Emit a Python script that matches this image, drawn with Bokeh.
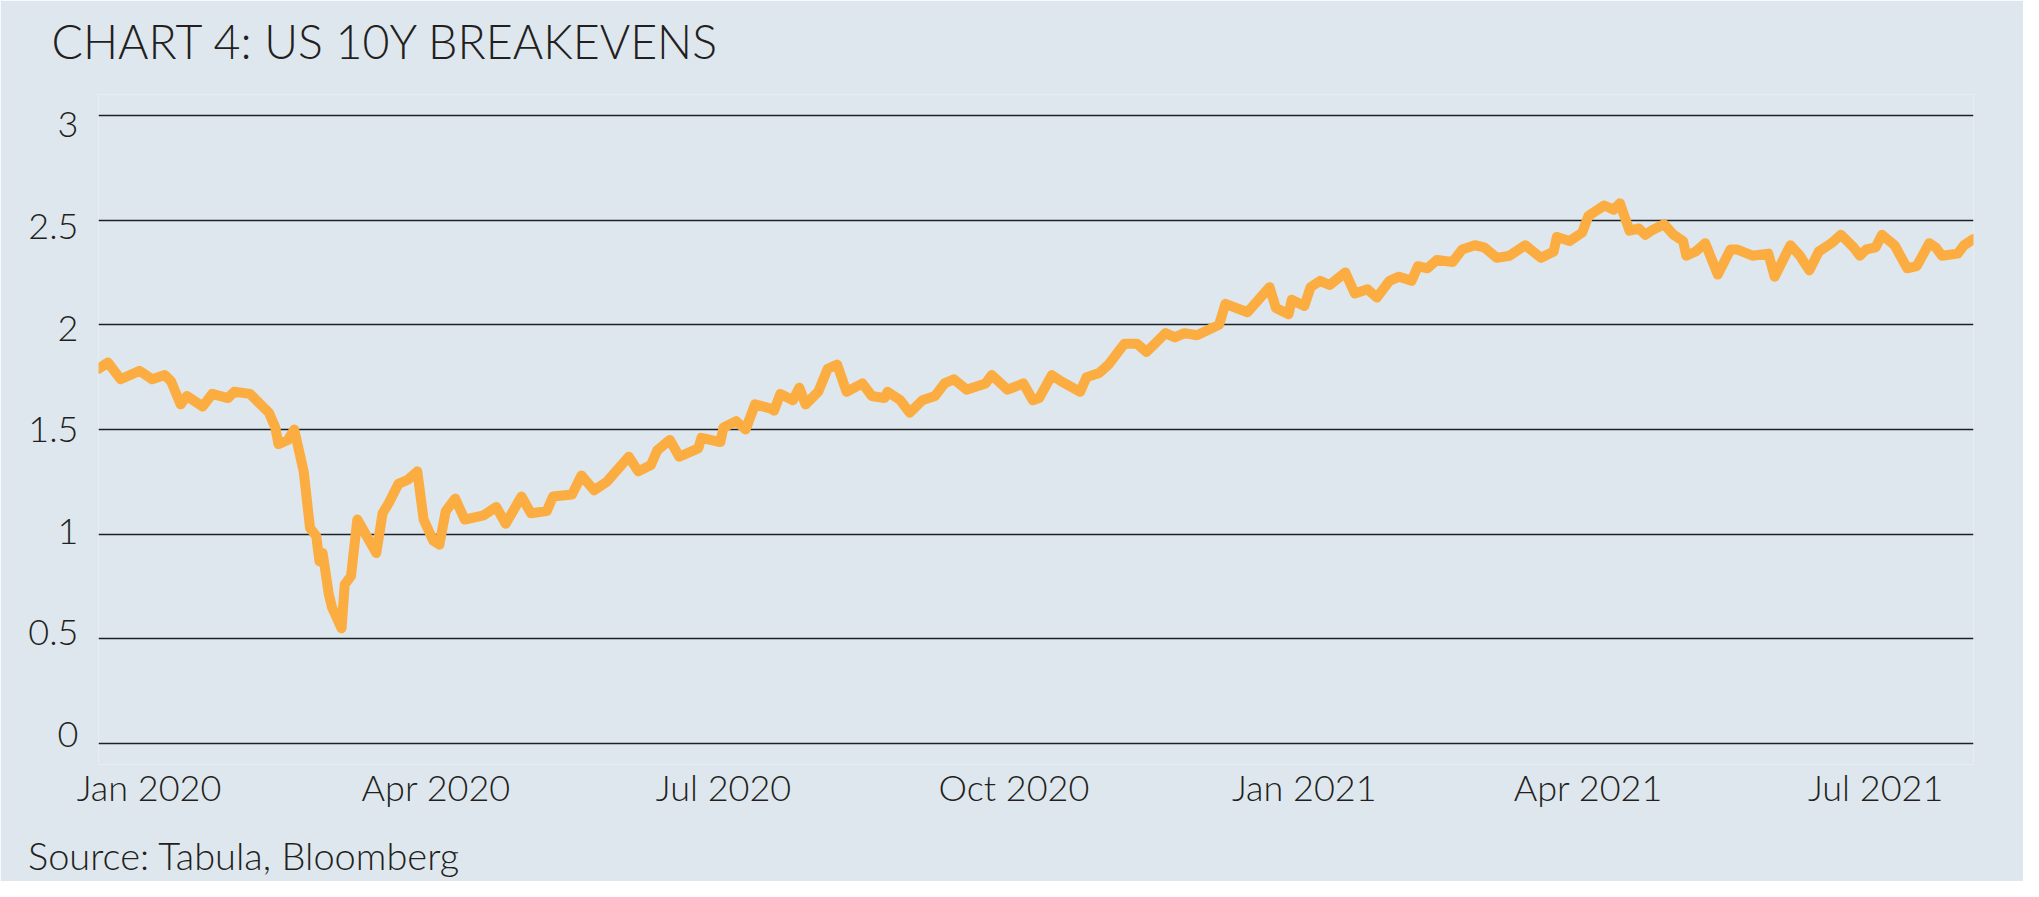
import pandas as pd
from bokeh.plotting import figure
from bokeh.models import Range1d, LinearAxis, FixedTicker, Grid, Title, ColumnDataSource
from bokeh.embed import file_html
from bokeh.resources import INLINE

# ---------------- data ----------------
dates = [
    "2019-12-16", "2019-12-19", "2019-12-23", "2019-12-29", "2020-01-02", "2020-01-06",
    "2020-01-08", "2020-01-11", "2020-01-13", "2020-01-18", "2020-01-21", "2020-01-26",
    "2020-01-28", "2020-02-02", "2020-02-06", "2020-02-08", "2020-02-10", "2020-02-11",
    "2020-02-14", "2020-02-16", "2020-02-19", "2020-02-21", "2020-02-23", "2020-02-24",
    "2020-02-25", "2020-02-27", "2020-02-28", "2020-03-02", "2020-03-03", "2020-03-05",
    "2020-03-07", "2020-03-13", "2020-03-15", "2020-03-17", "2020-03-20", "2020-03-23",
    "2020-03-26", "2020-03-28", "2020-03-31", "2020-04-02", "2020-04-04", "2020-04-07",
    "2020-04-10", "2020-04-16", "2020-04-20", "2020-04-23", "2020-04-28", "2020-05-01",
    "2020-05-06", "2020-05-08", "2020-05-14", "2020-05-17", "2020-05-21", "2020-05-25",
    "2020-06-01", "2020-06-04", "2020-06-08", "2020-06-10", "2020-06-14", "2020-06-17",
    "2020-06-23", "2020-06-24", "2020-06-30", "2020-07-01", "2020-07-05", "2020-07-08",
    "2020-07-11", "2020-07-16", "2020-07-17", "2020-07-19", "2020-07-23", "2020-07-25",
    "2020-07-27", "2020-07-31", "2020-08-03", "2020-08-06", "2020-08-09", "2020-08-14",
    "2020-08-17", "2020-08-21", "2020-08-22", "2020-08-26", "2020-08-29", "2020-09-02",
    "2020-09-06", "2020-09-09", "2020-09-12", "2020-09-16", "2020-09-22", "2020-09-24",
    "2020-09-29", "2020-10-04", "2020-10-07", "2020-10-09", "2020-10-13", "2020-10-16",
    "2020-10-22", "2020-10-24", "2020-10-28", "2020-10-31", "2020-11-03", "2020-11-05",
    "2020-11-09", "2020-11-12", "2020-11-14", "2020-11-18", "2020-11-21", "2020-11-24",
    "2020-11-28", "2020-12-05", "2020-12-07", "2020-12-14", "2020-12-21", "2020-12-23",
    "2020-12-27", "2020-12-28", "2021-01-01", "2021-01-03", "2021-01-06", "2021-01-09",
    "2021-01-14", "2021-01-17", "2021-01-21", "2021-01-24", "2021-01-28", "2021-01-31",
    "2021-02-04", "2021-02-06", "2021-02-09", "2021-02-12", "2021-02-17", "2021-02-20",
    "2021-02-24", "2021-02-27", "2021-03-03", "2021-03-07", "2021-03-12", "2021-03-17",
    "2021-03-21", "2021-03-22", "2021-03-26", "2021-03-30", "2021-04-01", "2021-04-06",
    "2021-04-09", "2021-04-11", "2021-04-14", "2021-04-17", "2021-04-19", "2021-04-21",
    "2021-04-25", "2021-04-28", "2021-05-01", "2021-05-02", "2021-05-05", "2021-05-08",
    "2021-05-12", "2021-05-16", "2021-05-18", "2021-05-23", "2021-05-28", "2021-05-30",
    "2021-06-04", "2021-06-07", "2021-06-10", "2021-06-13", "2021-06-17", "2021-06-20",
    "2021-06-24", "2021-06-26", "2021-06-28", "2021-07-01", "2021-07-03", "2021-07-07",
    "2021-07-11", "2021-07-14", "2021-07-18", "2021-07-20", "2021-07-22", "2021-07-27",
    "2021-07-29", "2021-08-01",
]
breakevens = [
    1.79, 1.82, 1.74, 1.78, 1.74, 1.76,
    1.73, 1.62, 1.66, 1.61, 1.67, 1.65,
    1.68, 1.67, 1.61, 1.58, 1.51, 1.43,
    1.45, 1.50, 1.30, 1.03, 0.99, 0.87,
    0.91, 0.71, 0.65, 0.55, 0.76, 0.80,
    1.07, 0.91, 1.10, 1.15, 1.24, 1.26,
    1.30, 1.07, 0.97, 0.95, 1.11, 1.17,
    1.07, 1.09, 1.13, 1.05, 1.18, 1.10,
    1.11, 1.18, 1.19, 1.28, 1.21, 1.25,
    1.37, 1.30, 1.33, 1.40, 1.45, 1.37,
    1.41, 1.46, 1.44, 1.51, 1.54, 1.50,
    1.62, 1.60, 1.59, 1.67, 1.64, 1.70,
    1.62, 1.68, 1.79, 1.81, 1.68, 1.72,
    1.66, 1.65, 1.68, 1.64, 1.58, 1.64,
    1.66, 1.72, 1.74, 1.69, 1.72, 1.76,
    1.69, 1.72, 1.64, 1.65, 1.76, 1.73,
    1.68, 1.75, 1.77, 1.81, 1.87, 1.91,
    1.91, 1.87, 1.90, 1.96, 1.94, 1.96,
    1.95, 2.00, 2.10, 2.06, 2.18, 2.08,
    2.05, 2.12, 2.09, 2.18, 2.21, 2.19,
    2.25, 2.15, 2.17, 2.13, 2.21, 2.23,
    2.21, 2.28, 2.27, 2.31, 2.30, 2.36,
    2.38, 2.37, 2.32, 2.33, 2.38, 2.32,
    2.35, 2.42, 2.40, 2.44, 2.52, 2.57,
    2.55, 2.58, 2.45, 2.46, 2.43, 2.45,
    2.48, 2.43, 2.40, 2.33, 2.35, 2.39,
    2.24, 2.36, 2.36, 2.33, 2.34, 2.23,
    2.38, 2.33, 2.26, 2.35, 2.39, 2.43,
    2.37, 2.33, 2.36, 2.37, 2.43, 2.38,
    2.27, 2.28, 2.39, 2.37, 2.33, 2.34,
    2.38, 2.41,
]

x_tick_dates = ["2020-01-01", "2020-04-01", "2020-07-01", "2020-10-01",
                "2021-01-01", "2021-04-01", "2021-07-01"]
x_tick_labels = ["Jan 2020", "Apr 2020", "Jul 2020", "Oct 2020",
                 "Jan 2021", "Apr 2021", "Jul 2021"]
y_ticks = [0, 0.5, 1, 1.5, 2, 2.5, 3]
y_tick_labels = ["0", "0.5", "1", "1.5", "2", "2.5", "3"]

title_text = "CHART 4: US 10Y BREAKEVENS"
source_text = "Source: Tabula, Bloomberg"

# ---------------- styles ----------------
BG = "#DFE7EE"
LINE = "#FBAD41"
INK = "#231F20"
GRID = "#1D2126"
FONT = "Lato Light"

dt = pd.to_datetime(dates)
src = ColumnDataSource(dict(date=dt, value=breakevens))

p = figure(
    width=2023, height=881,
    x_axis_type="datetime", y_axis_location=None,
    x_range=Range1d(dt[0], dt[-1]), y_range=Range1d(-0.1, 3.1),
    output_backend="svg", toolbar_location=None,
    min_border_left=98, min_border_right=50, min_border_top=94, min_border_bottom=117,
)
p.background_fill_color = BG
p.border_fill_color = BG
p.outline_line_color = None
p.xgrid.grid_line_color = None

# horizontal gridlines on the value scale
grid = Grid(dimension=1, ticker=FixedTicker(ticks=y_ticks),
            grid_line_color=GRID, grid_line_width=1.6)
p.add_layout(grid)

# value labels on the left (slightly tighter spacing than the gridlines, as in the original)
p.extra_y_ranges = {"lab": Range1d(-0.1477, 3.150)}
yax = LinearAxis(y_range_name="lab", ticker=FixedTicker(ticks=y_ticks),
                 major_label_overrides={t: l for t, l in zip(y_ticks, y_tick_labels)})
p.add_layout(yax, "left")

# date axis
x_tick_ms = [pd.Timestamp(d).value / 1e6 for d in x_tick_dates]
p.xaxis.ticker = FixedTicker(ticks=x_tick_ms)
p.xaxis.major_label_overrides = {t: l for t, l in zip(x_tick_ms, x_tick_labels)}

for ax in (p.xaxis[0], yax):
    ax.axis_line_color = None
    ax.major_tick_line_color = None
    ax.minor_tick_line_color = None
    ax.major_tick_out = 0
    ax.major_tick_in = 0
    ax.major_label_text_font = FONT
    ax.major_label_text_font_size = "36px"
    ax.major_label_text_color = INK
p.xaxis.major_label_standoff = 0
yax.major_label_standoff = 20

p.line("date", "value", source=src, line_color=LINE, line_width=10,
       line_join="round", line_cap="round")

# title (above, with a blank spacer between it and the plot area)
p.title.text = ""
p.add_layout(Title(text=" ", text_font_size="1px", standoff=23), "above")
p.add_layout(Title(text=title_text, align="left", offset=-47, standoff=0,
                   text_font=FONT, text_font_size="46.5px", text_font_style="normal",
                   text_color=INK), "above")

# source (below the date labels, with a blank spacer)
p.add_layout(Title(text=" ", text_font_size="1px", standoff=15), "below")
p.add_layout(Title(text=source_text, align="left", offset=-70.5, standoff=0,
                   text_font=FONT, text_font_size="38px", text_font_style="normal",
                   text_color=INK), "below")

open("out.html", "w").write(file_html(p, INLINE))
